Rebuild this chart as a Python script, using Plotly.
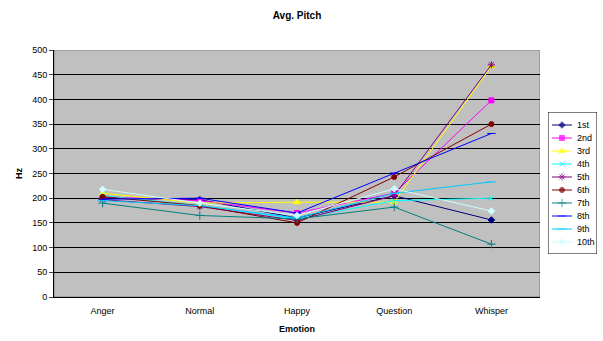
import plotly.graph_objects as go

categories = ["Anger", "Normal", "Happy", "Question", "Whisper"]
series_names = ["1st", "2nd", "3rd", "4th", "5th", "6th", "7th", "8th", "9th", "10th"]
s1 = [200, 197, 160, 205, 156]
s2 = [203, 195, 170, 210, 398]
s3 = [210, 190, 192, 192, 467]
s4 = [205, 185, 158, 195, 200]
s5 = [197, 183, 155, 205, 470]
s6 = [203, 185, 150, 243, 350]
s7 = [190, 165, 158, 182, 107]
s8 = [198, 200, 170, 251, 331]
s9 = [195, 185, 160, 210, 233]
s10 = [218, 190, 165, 219, 174]
values = [s1, s2, s3, s4, s5, s6, s7, s8, s9, s10]
y_ticks = [0, 50, 100, 150, 200, 250, 300, 350, 400, 450, 500]

colors = ["#000080", "#FF00FF", "#FFFF00", "#00FFFF", "#800080",
          "#800000", "#008080", "#0000FF", "#00CCFF", "#CCFFFF"]
symbols = ["diamond", "square", "triangle-up", "x-thin", "asterisk",
           "circle", "cross-thin", "line-ew", "line-ew", "diamond"]
sizes = [5, 5, 6, 5, 6, 5, 6, 6, 7, 5]

W, H = 603, 341
ML, MR, MT, MB = 54, 0, 50, 44
pw, ph = W - ML - MR, H - MT - MB
plot_right = 540
leg_l, leg_r, leg_t, leg_b = 548, 597, 112, 254
row_h = 13

fig = go.Figure()
for name, vals, c, s, sz in zip(series_names, values, colors, symbols, sizes):
    fig.add_trace(go.Scatter(
        x=categories, y=vals, name=name, mode="lines+markers",
        line=dict(color=c, width=1),
        marker=dict(symbol=s, size=sz, color=c, line=dict(color=c, width=1)),
        showlegend=False, xaxis="x", yaxis="y",
    ))

# custom compact legend (Excel style)
for i, (name, c, s, sz) in enumerate(zip(series_names, colors, symbols, sizes)):
    yy = row_h * (i + 1)
    fig.add_trace(go.Scatter(
        x=[4, 14, 24], y=[yy, yy, yy], mode="lines+markers",
        line=dict(color=c, width=1),
        marker=dict(symbol=s, size=[0, sz, 0], color=c, line=dict(color=c, width=1)),
        showlegend=False, hoverinfo="skip", xaxis="x2", yaxis="y2", cliponaxis=False,
    ))
    fig.add_annotation(x=27, y=yy, xref="x2", yref="y2", text=name, showarrow=False,
                       xanchor="left", yanchor="middle", font=dict(size=9))

shapes = [
    dict(type="rect", xref="x", yref="y", x0=-0.5, x1=4.5, y0=0, y1=500,
         fillcolor="#C0C0C0", line=dict(color="#808080", width=1), layer="below"),
    dict(type="rect", xref="x2", yref="y2", x0=0, x1=leg_r - leg_l,
         y0=0, y1=leg_b - leg_t, line=dict(color="black", width=1),
         fillcolor="white", layer="below"),
]

fig.update_layout(
    width=W, height=H,
    margin=dict(l=ML, r=MR, t=MT, b=MB, autoexpand=False),
    paper_bgcolor="white", plot_bgcolor="white",
    font=dict(family="Liberation Sans, Arial, sans-serif", size=9, color="black"),
    title=dict(text="<b>Avg. Pitch</b>", x=(ML + plot_right) / 2 / W, xanchor="center",
               y=1 - 15 / H, yanchor="middle", font=dict(size=10)),
    showlegend=False,
    xaxis=dict(title=dict(text="<b>Emotion</b>", font=dict(size=9), standoff=10),
               domain=[0, (plot_right - ML) / pw], automargin=False,
               range=[-0.5, 4.5], showgrid=False, showline=True, linecolor="black",
               ticks="", ticklabelstandoff=5, zeroline=False),
    yaxis=dict(title=dict(text="<b>Hz</b>", font=dict(size=9), standoff=8),
               automargin=False,
               range=[0, 500], tickvals=y_ticks, showgrid=True, gridcolor="black",
               gridwidth=1, showline=True, linecolor="black", ticks="outside",
               ticklen=4, zeroline=False),
    xaxis2=dict(domain=[(leg_l - ML) / pw, (leg_r - ML) / pw], range=[0, leg_r - leg_l],
                visible=False, anchor="y2", fixedrange=True, automargin=False),
    yaxis2=dict(domain=[(H - MB - leg_b) / ph, (H - MB - leg_t) / ph],
                range=[leg_b - leg_t, 0], visible=False, anchor="x2", fixedrange=True,
                automargin=False),
    shapes=shapes,
)
fig.write_html("out.html", post_script="document.body.style.margin='0';",
               config={"displayModeBar": False})
